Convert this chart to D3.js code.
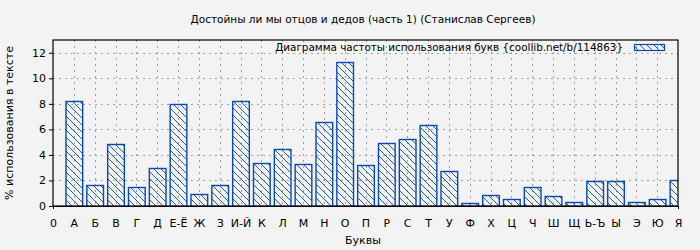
<!DOCTYPE html>
<html>
<head>
<meta charset="utf-8">
<script src="https://cdn.jsdelivr.net/npm/d3@7"></script>
<style>
  body { margin: 0; background: #f3f3f3; }
  svg { display: block; font-family: "DejaVu Sans", sans-serif; }
  .grid line { stroke: #a0a0a0; stroke-dasharray: 2,4; }
</style>
</head>
<body>
<svg id="chart" width="700" height="250"></svg>
<script>
var letters = ['А','Б','В','Г','Д','Е-Ё','Ж','З','И-Й','К','Л','М','Н','О','П',
  'Р','С','Т','У','Ф','Х','Ц','Ч','Ш','Щ','Ь-Ъ','Ы','Э','Ю','Я']
var percents = [8.2, 1.62, 4.82, 1.48, 2.94, 8.02, 0.91, 1.62, 8.2, 3.33, 4.43, 3.26, 6.61, 11.3, 3.18,
  4.9, 5.23, 6.38, 2.71, 0.21, 0.86, 0.52, 1.48, 0.78, 0.29, 1.95, 1.95, 0.29, 0.52, 2.0]
var yTicks = [0, 2, 4, 6, 8, 10, 12]

var title = 'Достойны ли мы отцов и дедов (часть 1) (Станислав Сергеев)'
var legendLabel = 'Диаграмма частоты использования букв {coollib.net/b/114863}'

var blue = '#0a48b4'
var margin = {left: 53, right: 22, top: 40, bottom: 44}
var width = 700 - margin.left - margin.right
var height = 250 - margin.top - margin.bottom

var svg = d3.select('#chart')

var defs = svg.append('defs')
var pat = defs.append('pattern')
  .attr('id', 'hatch')
  .attr('patternUnits', 'userSpaceOnUse')
  .attr('width', 7).attr('height', 7)
pat.append('path')
  .attr('d', 'M0,0 L7,7 M-3.5,3.5 L3.5,10.5 M3.5,-3.5 L10.5,3.5')
  .attr('stroke', blue).attr('stroke-width', 0.9)

defs.append('clipPath').attr('id', 'clip')
  .append('rect').attr('width', width).attr('height', height)

var g = svg.append('g').attr('transform', 'translate(' + margin.left + ',' + margin.top + ')')

var x = d3.scaleLinear().domain([0, letters.length]).range([0, width])
var y = d3.scaleLinear().domain([0, 13]).range([height, 0])

// grid
var grid = g.append('g').attr('class', 'grid')
grid.selectAll('line.v').data(d3.range(1, letters.length)).join('line').attr('class', 'v')
  .attr('x1', d => Math.round(x(d)) + 0.5).attr('x2', d => Math.round(x(d)) + 0.5)
  .attr('y1', 0).attr('y2', height)
grid.selectAll('line.h').data(yTicks.slice(1)).join('line').attr('class', 'h')
  .attr('x1', 0).attr('x2', width)
  .attr('y1', d => Math.round(y(d)) + 0.5).attr('y2', d => Math.round(y(d)) + 0.5)

// bars
var bw = 0.8
g.append('g').attr('clip-path', 'url(#clip)')
  .selectAll('rect').data(percents).join('rect')
  .attr('x', (d, i) => x(i + 1 - bw / 2) + 0.5)
  .attr('y', d => Math.round(y(d)) + 0.5)
  .attr('width', x(bw) - x(0))
  .attr('height', d => height - Math.round(y(d)))
  .attr('fill', 'url(#hatch)')
  .attr('stroke', blue).attr('stroke-width', 1.4)

// frame
g.append('rect')
  .attr('width', width).attr('height', height)
  .attr('fill', 'none').attr('stroke', '#000').attr('stroke-width', 1.2)

// axes
var xAxis = g.append('g').attr('transform', 'translate(0,' + height + ')')
  .call(d3.axisBottom(x)
    .tickValues(d3.range(0, letters.length + 1))
    .tickFormat(d => d == 0 ? '0' : letters[d - 1])
    .tickSizeInner(0).tickSizeOuter(3).tickPadding(13))
xAxis.select('.domain').attr('stroke', '#000')

var yAxis = g.append('g')
  .call(d3.axisLeft(y).tickValues(yTicks).tickSize(4).tickPadding(3))
yAxis.select('.domain').remove()

svg.selectAll('.tick text').attr('font-size', 11).attr('fill', '#000')
  .attr('font-family', '"DejaVu Sans", sans-serif')
svg.selectAll('.tick line').attr('stroke', '#000')

// titles
svg.append('text').attr('x', 363).attr('y', 23)
  .attr('text-anchor', 'middle').attr('font-size', 10.5).text(title)
svg.append('text').attr('x', 363).attr('y', 244)
  .attr('text-anchor', 'middle').attr('font-size', 11).text('Буквы')
svg.append('text')
  .attr('transform', 'translate(13,' + (margin.top + height / 2) + ') rotate(-90)')
  .attr('text-anchor', 'middle').attr('font-size', 11).text('% использования в тексте')

// legend
svg.append('text').attr('x', 623).attr('y', 51)
  .attr('text-anchor', 'end').attr('font-size', 10.4).text(legendLabel)
svg.append('rect').attr('x', 634.5).attr('y', 44.5).attr('width', 30).attr('height', 6)
  .attr('fill', 'url(#hatch)').attr('stroke', blue).attr('stroke-width', 1.2)
</script>
</body>
</html>
